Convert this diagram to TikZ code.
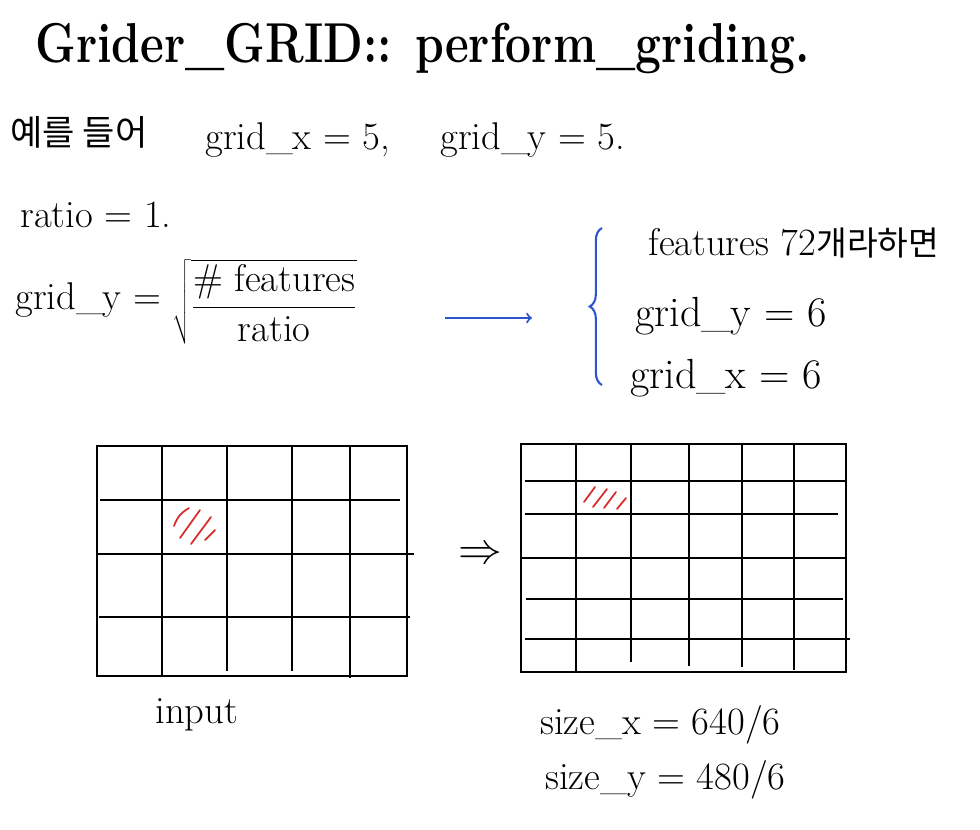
\documentclass[tikz,border=0pt]{standalone}
\usepackage{fontspec}
\newfontfamily\kr{Noto Sans CJK KR}
\usetikzlibrary{positioning,decorations.pathreplacing}
\definecolor{penblue}{RGB}{45,85,205}
\definecolor{penred}{RGB}{215,45,45}
\tikzset{
  note/.style={anchor=west, inner sep=0pt, font=\fontsize{22}{26}\selectfont},
  gridline/.style={line width=1.3pt},
  hatch/.style={penred, line width=1pt, line cap=round}
}
\begin{document}
\begin{tikzpicture}[x=0.02cm, y=-0.02cm]
  \useasboundingbox (0,0) rectangle (980,829);

  % title
  \node[note, font=\fontsize{32}{38}\selectfont\bfseries] (title) at (35,48)
    {\scalebox{0.82}[1]{Grider\_GRID:: perform\_griding.}};

  % example values
  \node[note] (ex) at (10,132) {\kr\fontsize{20}{24}\selectfont 예를 들어};
  \node[note] (gx) at (205,140) {grid\_x = 5,};
  \node[note] (gy) at (440,140) {grid\_y = 5.};
  \node[note] (ratio) at (20,215) {ratio = 1.};

  % formula
  \node[note] (gylhs) at (15,300) {grid\_y =};
  \node[note, font=\fontsize{22}{26}\selectfont] (formula) at (172,302)
    {$\sqrt{\displaystyle\frac{\#\ \mathrm{features}}{\mathrm{ratio}}}$};
  \coordinate (arrs) at (445,318);
  \coordinate (arre) at (532,318);
  \draw[penblue, line width=1.2pt, ->] (arrs) -- (arre);

  % result
  \coordinate (brtop) at (602,228);
  \coordinate (brbot) at (602,385);
  \draw[penblue, line width=1.2pt, decorate, decoration={brace, amplitude=7pt}] (brbot) -- (brtop);
  \node[note] (feat) at (648,243) {features 72{\kr\fontsize{19}{22}\selectfont 개라하면}};
  \node[note, font=\fontsize{24}{28}\selectfont] (gy6) at (635,316) {grid\_y = 6};
  \node[note, font=\fontsize{24}{28}\selectfont] (gx6) at (630,378) {grid\_x = 6};

  % input grid 5x5
  \draw[gridline] (97,446) rectangle (407,676);
  \foreach \x/\yb in {162/676, 227/671, 292/671, 350/678}
    \draw[gridline] (\x,446) -- (\x,\yb);
  \foreach \y/\xa/\xb in {500/100/400, 554/97/414, 617/99/410}
    \draw[gridline] (\xa,\y) -- (\xb,\y);
  \draw[hatch] (174,526) to[bend left=20] (189,508);
  \draw[hatch] (180,538) -- (200,510);
  \draw[hatch] (191,544) -- (211,517);
  \draw[hatch] (205,540) -- (215,530);
  \node[note] (input) at (155,715) {input};

  \node[note, font=\fontsize{24}{28}\selectfont] (impl) at (458,555) {$\Rightarrow$};

  % output grid 6x6
  \draw[gridline] (521,444) rectangle (846,672);
  \foreach \x/\yb in {576/672, 631/662, 689/666, 742/667, 794/670}
    \draw[gridline] (\x,444) -- (\x,\yb);
  \foreach \y/\xa/\xb in {481/525/846, 514/525/838, 558/521/846, 599/526/843, 639/525/850}
    \draw[gridline] (\xa,\y) -- (\xb,\y);
  \draw[hatch] (584,502) -- (595,487);
  \draw[hatch] (593,507) -- (607,489);
  \draw[hatch] (604,508) -- (616,492);
  \draw[hatch] (617,509) -- (626,498);

  \node[note] (sx) at (540,725) {size\_x = 640/6};
  \node[note] (sy) at (545,780) {size\_y = 480/6};
\end{tikzpicture}
\end{document}
